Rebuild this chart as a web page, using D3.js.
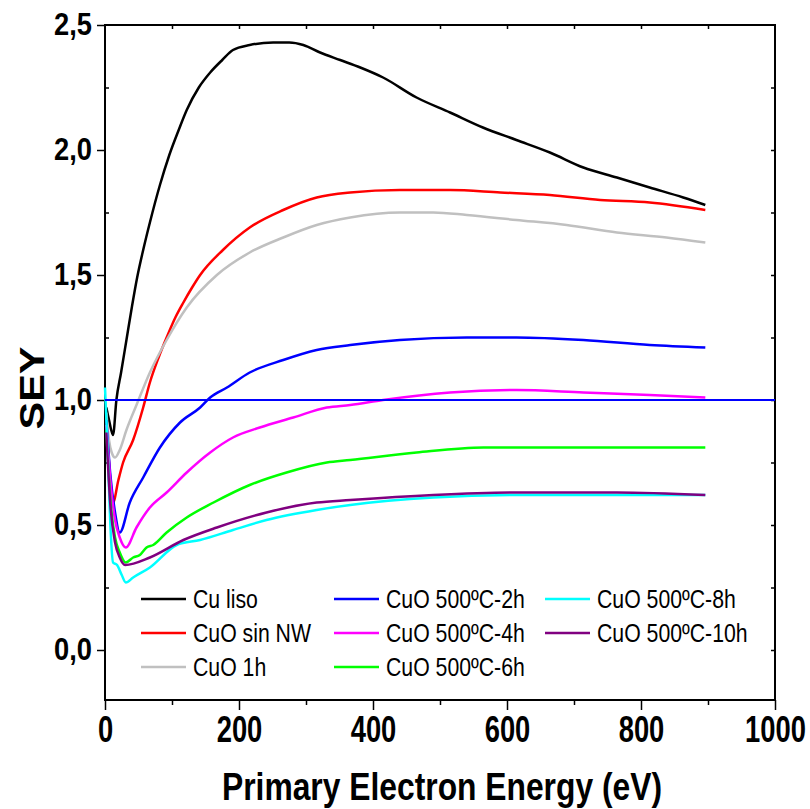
<!DOCTYPE html>
<html>
<head>
<meta charset="utf-8">
<script src="https://cdn.jsdelivr.net/npm/d3@7"></script>
<style>
  body { margin: 0; background: #fff; }
  .tick text { font-family: "Liberation Sans", Arial, sans-serif; font-weight: bold; fill: #000; }
  .line { fill: none; stroke-width: 2.5; stroke-linejoin: round; }
  .legend text { font-family: "Liberation Sans", Arial, sans-serif; font-size: 25px; }
</style>
</head>
<body>
<div class="chart"></div>
<script>
// values: [energy (eV), SEY]
const cuLiso = [[2,0.97],[6,0.92],[12,0.86],[17,1.0],[24,1.11],[32,1.24],[40,1.37],[48,1.49],[57,1.60],[67,1.71],[82,1.86],[96,1.98],[110,2.08],[122,2.16],[140,2.25],[157,2.31],[175,2.36],[191,2.40],[216,2.42],[251,2.43],[275,2.43],[296,2.42],[321,2.39],[351,2.36],[381,2.33],[415,2.29],[465,2.21],[515,2.15],[564,2.09],[614,2.04],[664,1.99],[714,1.93],[764,1.89],[813,1.85],[863,1.81],[896,1.78]]
const cuoSinNW = [[2,0.93],[6,0.75],[12,0.59],[20,0.68],[27,0.75],[42,0.84],[57,0.97],[67,1.07],[80,1.17],[92,1.25],[105,1.33],[117,1.39],[130,1.45],[142,1.50],[176,1.60],[216,1.69],[266,1.76],[316,1.81],[366,1.83],[440,1.84],[515,1.84],[590,1.83],[664,1.82],[739,1.80],[813,1.79],[896,1.76]]
const cuo1h = [[2,0.95],[6,0.84],[10,0.79],[15,0.77],[22,0.80],[32,0.88],[47,0.98],[67,1.11],[92,1.24],[122,1.37],[167,1.50],[216,1.59],[266,1.65],[316,1.70],[366,1.73],[440,1.75],[490,1.75],[540,1.74],[614,1.72],[689,1.70],[764,1.67],[838,1.65],[896,1.63]]
const cuo2h = [[2,0.92],[8,0.70],[15,0.55],[22,0.47],[37,0.59],[57,0.69],[82,0.81],[112,0.91],[142,0.97],[157,1.01],[182,1.05],[216,1.11],[266,1.16],[316,1.20],[366,1.22],[440,1.24],[540,1.25],[614,1.25],[714,1.24],[813,1.22],[896,1.21]]
const cuo4h = [[2,0.90],[8,0.68],[15,0.52],[22,0.45],[31,0.41],[47,0.49],[67,0.57],[92,0.63],[122,0.71],[157,0.79],[191,0.85],[231,0.89],[281,0.93],[331,0.97],[366,0.98],[415,1.00],[515,1.03],[614,1.04],[714,1.03],[813,1.02],[896,1.01]]
const cuo6h = [[2,0.88],[8,0.60],[15,0.45],[22,0.39],[31,0.35],[42,0.37],[52,0.38],[62,0.41],[72,0.42],[92,0.47],[122,0.53],[162,0.59],[216,0.66],[271,0.71],[331,0.75],[366,0.76],[465,0.79],[565,0.81],[664,0.81],[764,0.81],[896,0.81]]
const cuo8h = [[0,1.05],[4,0.80],[8,0.50],[12,0.35],[18,0.34],[25,0.30],[31,0.27],[42,0.29],[67,0.33],[107,0.42],[142,0.44],[191,0.48],[241,0.52],[316,0.56],[366,0.58],[490,0.61],[614,0.62],[764,0.62],[896,0.62]]
const cuo10h = [[2,0.87],[8,0.58],[15,0.43],[22,0.37],[30,0.34],[67,0.37],[117,0.44],[167,0.49],[241,0.55],[316,0.59],[366,0.60],[490,0.62],[614,0.63],[764,0.63],[896,0.62]]

const seriesNames = ["Cu liso", "CuO sin NW", "CuO 1h", "CuO 500ºC-2h", "CuO 500ºC-4h", "CuO 500ºC-6h", "CuO 500ºC-8h", "CuO 500ºC-10h"]
const seriesData = [cuLiso, cuoSinNW, cuo1h, cuo2h, cuo4h, cuo6h, cuo8h, cuo10h]
const colors = ["#000000", "#ff0000", "#c0c0c0", "#0000ff", "#ff00ff", "#00ff00", "#00ffff", "#800080"]

const xTicks = [0, 200, 400, 600, 800, 1000]
const yTicks = [0, 0.5, 1.0, 1.5, 2.0, 2.5]
const refLine = 1.0

const margin = { top: 25, right: 35, bottom: 109, left: 105 }
const W = 810, H = 809
const w = W - margin.left - margin.right
const h = H - margin.top - margin.bottom

const svg = d3.select(".chart").append("svg")
  .attr("width", W)
  .attr("height", H)
  .append("g")
  .attr("transform", "translate(" + margin.left + "," + margin.top + ")")

const x = d3.scaleLinear().domain([0, 1000]).range([0, w])
const y = d3.scaleLinear().domain([-0.2, 2.5]).range([h, 0])

const fmt = d => d3.format(".1f")(d).replace(".", ",")

// minor ticks (no labels)
svg.append("g")
  .attr("transform", "translate(0," + h + ")")
  .call(d3.axisBottom(x).tickValues(d3.range(100, 1000, 200)).tickSize(5).tickFormat(""))
svg.append("g")
  .call(d3.axisLeft(y).tickValues(d3.range(-0.25, 2.5, 0.5).filter(v => v > -0.2)).tickSize(-4).tickFormat(""))
svg.append("g")
  .call(d3.axisTop(x).tickValues(d3.range(100, 1000, 100)).tickSize(-4).tickFormat(""))
svg.append("g")
  .attr("transform", "translate(" + w + ",0)")
  .call(d3.axisRight(y).tickValues(d3.range(-0.25, 2.5, 0.25).filter(v => v > -0.2)).tickSize(-4).tickFormat(""))

// main axes, text squeezed to look like the condensed font of the original
const xAxis = svg.append("g")
  .attr("transform", "translate(0," + h + ")")
  .call(d3.axisBottom(x).tickValues(xTicks).tickSize(10).tickPadding(6).tickFormat(d3.format("d")))
xAxis.selectAll("text")
  .style("font-size", "37px")
  .attr("transform", "scale(0.74,1)")

const yAxis = svg.append("g")
  .call(d3.axisLeft(y).tickValues(yTicks).tickSize(8).tickPadding(5).tickFormat(fmt))
yAxis.selectAll("text")
  .style("font-size", "31px")
  .attr("x", -13 / 0.88)
  .attr("transform", "scale(0.88,1)")

svg.selectAll(".domain").remove()
svg.selectAll(".tick line").attr("stroke", "#000").attr("stroke-width", 1.5)

// frame
svg.append("rect")
  .attr("width", w).attr("height", h)
  .attr("fill", "none").attr("stroke", "#000").attr("stroke-width", 2)

const line = d3.line()
  .x(d => x(d[0]))
  .y(d => y(d[1]))
  .curve(d3.curveMonotoneX)

svg.selectAll(".line")
  .data(seriesData)
  .enter().append("path")
  .attr("class", "line")
  .attr("stroke", (d, i) => colors[i])
  .attr("d", line)

// SEY = 1 reference
svg.append("line")
  .attr("x1", 0).attr("x2", w)
  .attr("y1", y(refLine)).attr("y2", y(refLine))
  .attr("stroke", "#0000ff").attr("stroke-width", 2)

// legend, 3 rows per column
const colX = [36, 229, 440]
const legend = svg.append("g").attr("class", "legend")
seriesNames.forEach(function(name, i) {
  const cx = colX[Math.floor(i / 3)]
  const cy = 574 + (i % 3) * 34
  legend.append("line")
    .attr("x1", cx).attr("x2", cx + 45)
    .attr("y1", cy).attr("y2", cy)
    .attr("stroke", colors[i]).attr("stroke-width", 2.5)
  legend.append("text")
    .attr("transform", "translate(" + (cx + 52) + "," + (cy + 9) + ") scale(0.85,1)")
    .text(name)
})

// axis titles
svg.append("text")
  .attr("x", w / 2 + 2).attr("y", h + 100)
  .attr("text-anchor", "middle")
  .attr("textLength", 440).attr("lengthAdjust", "spacingAndGlyphs")
  .style("font-family", "'Liberation Sans', Arial, sans-serif")
  .style("font-weight", "bold").style("font-size", "39px")
  .text("Primary Electron Energy (eV)")

svg.append("text")
  .attr("transform", "translate(-61," + (y(1.0) - 12) + ") rotate(-90)")
  .attr("text-anchor", "middle")
  .attr("textLength", 83).attr("lengthAdjust", "spacingAndGlyphs")
  .style("font-family", "'Liberation Sans', Arial, sans-serif")
  .style("font-weight", "bold").style("font-size", "35px")
  .text("SEY")
</script>
</body>
</html>
